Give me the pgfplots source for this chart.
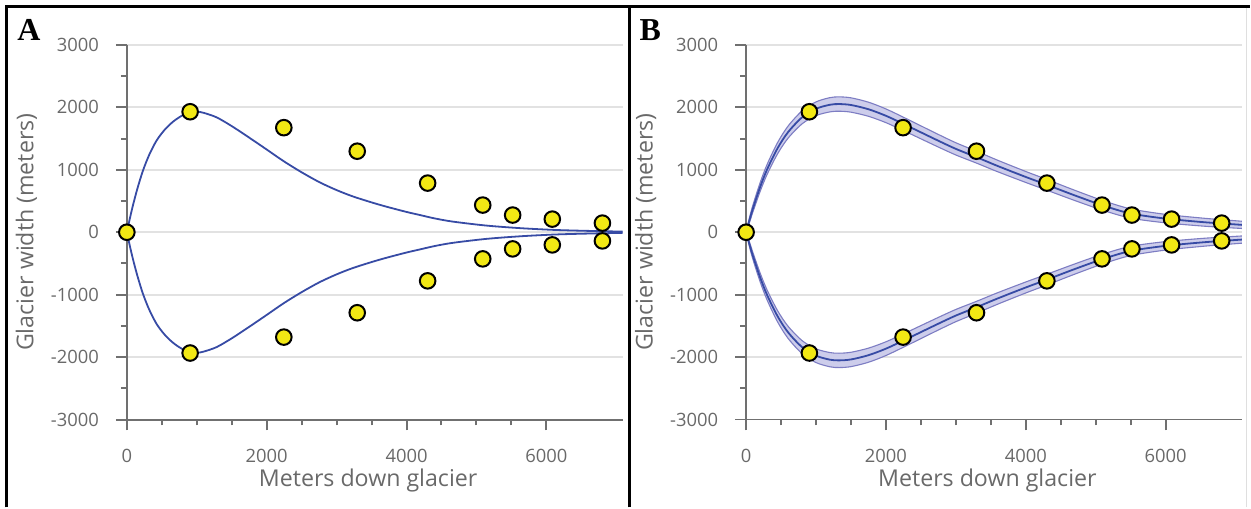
\documentclass[border=0pt]{standalone}
\usepackage{fontspec}
\setmainfont{Open Sans}
\newfontfamily\panelfont{Liberation Serif}
\usepackage{pgfplots}
\pgfplotsset{compat=1.18}
\usepackage{pgfplotstable}
\usepgfplotslibrary{fillbetween}

\definecolor{axgray}{RGB}{112,112,112}
\definecolor{gridgray}{RGB}{226,226,226}
\definecolor{txtgray}{RGB}{105,105,105}
\definecolor{curveblue}{RGB}{55,75,165}
\definecolor{bandfill}{RGB}{205,205,235}
\definecolor{bandedge}{RGB}{125,125,195}
\definecolor{ptyellow}{RGB}{242,232,20}

\pgfplotstableread{
x y
0 0
905 1930
2245 1675
3295 1298
4302 787
5090 435
5518 275
6085 210
6802 146
905 -1935
2245 -1680
3295 -1290
4302 -779
5090 -427
5518 -267
6085 -203
6802 -139
}\points

\pgfplotstableread{
x y ny
0 0 0
40 205 -205
86 425 -425
150 695 -695
230 985 -985
320 1240 -1240
426 1470 -1470
540 1640 -1640
660 1770 -1770
780 1862 -1862
900 1920 -1920
1000 1932 -1932
1100 1912 -1912
1284 1840 -1840
1500 1700 -1700
1757 1510 -1510
2000 1325 -1325
2240 1140 -1140
2500 960 -960
2757 800 -800
3000 675 -675
3229 575 -575
3500 478 -478
3710 410 -410
4000 325 -325
4186 277 -277
4400 222 -222
4662 170 -170
5138 107 -107
5614 66 -66
6090 38 -38
6500 24 -24
7090 10 -10
}\curveA

\pgfplotstableread{
x c u l nc nu nl
0 0 0 0 0 0 0
50 202 242 162 -202 -242 -162
100 389 444 334 -389 -444 -334
200 722 792 652 -722 -792 -652
300 1005 1085 925 -1005 -1085 -925
450 1346 1436 1256 -1346 -1436 -1256
600 1603 1700 1506 -1603 -1700 -1506
800 1840 1944 1736 -1840 -1944 -1736
1000 1978 2088 1868 -1978 -2088 -1868
1200 2042 2156 1928 -2042 -2156 -1928
1330 2053 2168 1938 -2053 -2168 -1938
1500 2038 2153 1923 -2038 -2153 -1923
1750 1970 2083 1857 -1970 -2083 -1857
2000 1865 1975 1755 -1865 -1975 -1755
2250 1735 1842 1628 -1735 -1842 -1628
2500 1600 1704 1496 -1600 -1704 -1496
2750 1465 1566 1364 -1465 -1566 -1364
3000 1335 1433 1237 -1335 -1433 -1237
3300 1200 1295 1105 -1200 -1295 -1105
3600 1060 1152 968 -1060 -1152 -968
4000 885 973 797 -885 -973 -797
4300 760 846 674 -760 -846 -674
4700 590 672 508 -590 -672 -508
5100 430 508 352 -430 -508 -352
5500 300 374 226 -300 -374 -226
6000 218 286 150 -218 -286 -150
6500 165 229 101 -165 -229 -101
6800 140 201 79 -140 -201 -79
7090 118 176 60 -118 -176 -60
}\curveB

\pgfplotsset{glacier/.style={
  scale only axis, width=248.15pt, height=187.5pt,
  xmin=0, xmax=7090, ymin=-3000, ymax=3000,
  axis x line*=bottom, axis y line*=left,
  axis line style={axgray, line width=1pt, -},
  xtick={0,2000,4000,6000}, ytick={-3000,-2000,...,3000},
  minor x tick num=3, minor y tick num=1,
  tick align=outside,
  major tick length=5.5pt, minor tick length=3pt,
  every tick/.style={axgray, line width=1pt},
  ymajorgrids, major grid style={gridgray, line width=1pt},
  tick label style={font=\fontsize{9.2}{10}\selectfont, text=txtgray},
  yticklabel style={xshift=-5pt},
  xticklabel style={yshift=-6pt},
  /pgf/number format/assume math mode=true,
  /pgf/number format/set thousands separator={},
  label style={font=\fontsize{11.6}{12}\selectfont, text=txtgray},
  xlabel={Meters down glacier}, ylabel={Glacier width (meters)},
  xlabel style={at={(axis description cs:0.4867,-0.1800)}, anchor=base},
  ylabel style={at={(axis description cs:-0.1888,0.5)}, anchor=base},
  clip=false,
  anchor=south west,
}}

\begin{document}
\begin{tikzpicture}
\path (0,0) rectangle (625.5pt,254pt);

% Panel A
\begin{axis}[glacier, at={(63.5pt,44pt)}]
\addplot[curveblue, line width=0.9pt, smooth] table[x=x, y=y] {\curveA};
\addplot[curveblue, line width=0.9pt, smooth] table[x=x, y=ny] {\curveA};
\addplot[only marks, mark=*, mark size=3.9pt, mark options={fill=ptyellow, draw=black, line width=1pt}] table[x=x, y=y] {\points};
\end{axis}

% Panel B
\begin{axis}[glacier, at={(373.5pt,44pt)}]
\addplot[bandedge, line width=0.55pt, smooth, name path=bu] table[x=x, y=u] {\curveB};
\addplot[bandedge, line width=0.55pt, smooth, name path=bl] table[x=x, y=l] {\curveB};
\addplot[bandfill] fill between[of=bu and bl];
\addplot[bandedge, line width=0.55pt, smooth, name path=cu] table[x=x, y=nu] {\curveB};
\addplot[bandedge, line width=0.55pt, smooth, name path=cl] table[x=x, y=nl] {\curveB};
\addplot[bandfill] fill between[of=cu and cl];
\addplot[curveblue, line width=0.9pt, smooth] table[x=x, y=c] {\curveB};
\addplot[curveblue, line width=0.9pt, smooth] table[x=x, y=nc] {\curveB};
\addplot[only marks, mark=*, mark size=3.9pt, mark options={fill=ptyellow, draw=black, line width=1pt}] table[x=x, y=y] {\points};
\end{axis}

% frame
\draw[black, line width=1.5pt] (3.25pt,0) -- (3.25pt,250.75pt) -- (625.5pt,250.75pt);
\draw[black, line width=1.5pt] (315pt,0) -- (315pt,250.75pt);
\draw[gray!25, line width=0.6pt] (624pt,0) -- (624pt,250pt);

\node[anchor=base west, inner sep=0pt, font=\panelfont\bfseries\fontsize{16}{16}\selectfont] at (8.5pt,233.5pt) {A};
\node[anchor=base west, inner sep=0pt, font=\panelfont\bfseries\fontsize{16}{16}\selectfont] at (320pt,233.5pt) {B};
\end{tikzpicture}
\end{document}
